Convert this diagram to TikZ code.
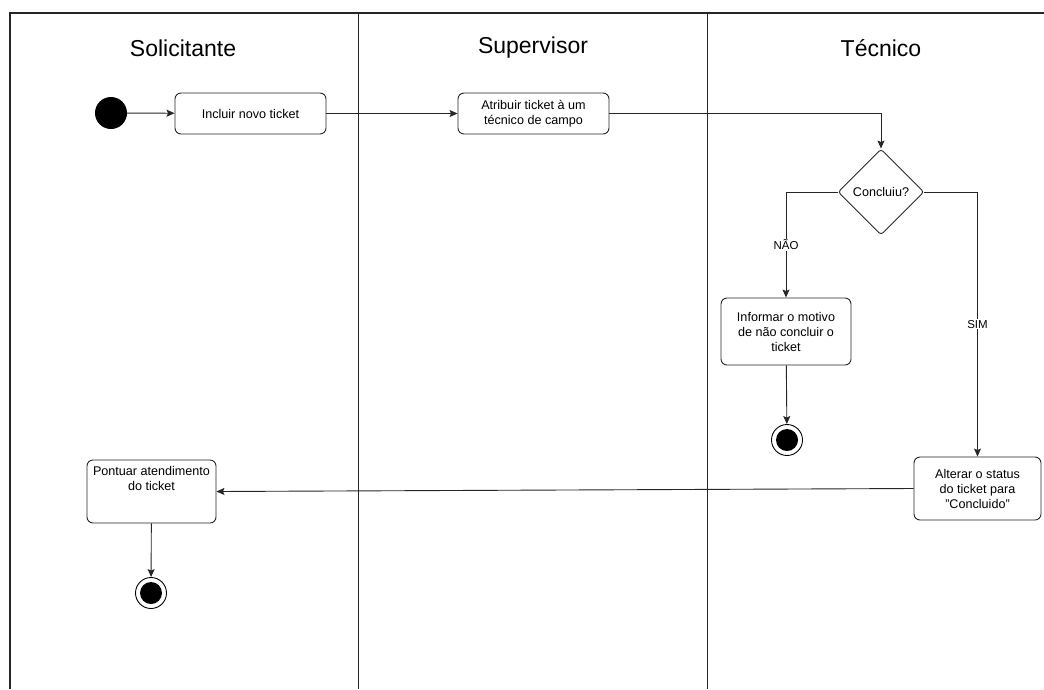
\documentclass[tikz,border=0pt]{standalone}
\usepackage{fontspec}
\setmainfont{Liberation Sans}
\usetikzlibrary{shapes.geometric,arrows.meta}

\begin{document}
\begin{tikzpicture}[x=1pt,y=-1pt,
  lane/.style={draw=black!85, line width=1pt},
  lanetitle/.style={font=\fontsize{23}{27}\selectfont, inner sep=0pt},
  act/.style={draw=black!85, line width=0.9pt, rounded corners=6pt, align=center,
    inner sep=2pt, font=\fontsize{12.6}{15}\selectfont},
  decision/.style={diamond, draw=black!85, line width=0.9pt, rounded corners=3pt,
    inner sep=0pt, aspect=1, minimum width=86pt, minimum height=86pt,
    font=\fontsize{12.6}{15}\selectfont},
  initial/.style={circle, fill=black, inner sep=0pt, minimum size=32pt},
  final/.style={circle, draw=black, line width=0.9pt, inner sep=0pt, minimum size=31pt,
    path picture={\fill[black] (path picture bounding box.center) circle (11pt);}},
  flow/.style={draw=black!85, line width=0.9pt, -{Stealth[length=8pt,width=7pt,inset=1.5pt]}},
  guard/.style={fill=white, inner sep=1pt, font=\fontsize{11.5}{13}\selectfont}
]
\useasboundingbox (0,0) rectangle (1044,689);

% swimlane frame
\draw[lane, line width=1.3pt] (1044,13) -- (10,13) -- (10,689);
\draw[lane] (358,13) -- (358,689);
\draw[lane] (707,13) -- (707,689);
\node[lanetitle] (hsol) at (183,48) {Solicitante};
\node[lanetitle] (hsup) at (533,48) {Supervisor};
\node[lanetitle] (htec) at (881,48) {Técnico};

% activities
\node[initial] (start) at (111,113) {};
\node[act, minimum width=151pt, minimum height=41pt] (inc) at (250.5,113.5) {Incluir novo ticket};
\node[act, minimum width=151pt, minimum height=41pt] (atr) at (533.5,113.5) {Atribuir ticket à um\\técnico de campo};
\node[decision] (dia) at (881,192) {Concluiu?};
\node[act, minimum width=130pt, minimum height=67pt] (inf) at (786,331.5) {Informar o motivo\\de não concluir o\\ticket};
\node[final] (end1) at (787,440) {};
\node[act, minimum width=127pt, minimum height=63pt] (alt) at (977.5,488.5) {Alterar o status\\do ticket para\\"Concluido"};
\node[act, minimum width=129pt, minimum height=63pt,
  label={[name=pontxt, anchor=north, inner sep=0pt, yshift=-7pt, align=center,
    font=\fontsize{12.6}{15}\selectfont]north:{Pontuar atendimento\\do ticket}}] (pon) at (151.5,491.5) {};
\node[final] (end2) at (151,593) {};

% control flow
\draw[flow] (start) -- (inc);
\draw[flow] (inc) -- (atr);
\draw[flow] (atr.east) -| (dia.north);
\draw[flow] (dia.west) -| node[guard, pos=0.75] (gnao) {NÃO} (inf.north);
\draw[flow] (dia.east) -| node[guard, pos=0.75] (gsim) {SIM} (alt.north);
\draw[flow] (inf) -- (end1);
\draw[flow] (alt.west) -- (pon.east);
\draw[flow] (pon) -- (end2);
\end{tikzpicture}
\end{document}
